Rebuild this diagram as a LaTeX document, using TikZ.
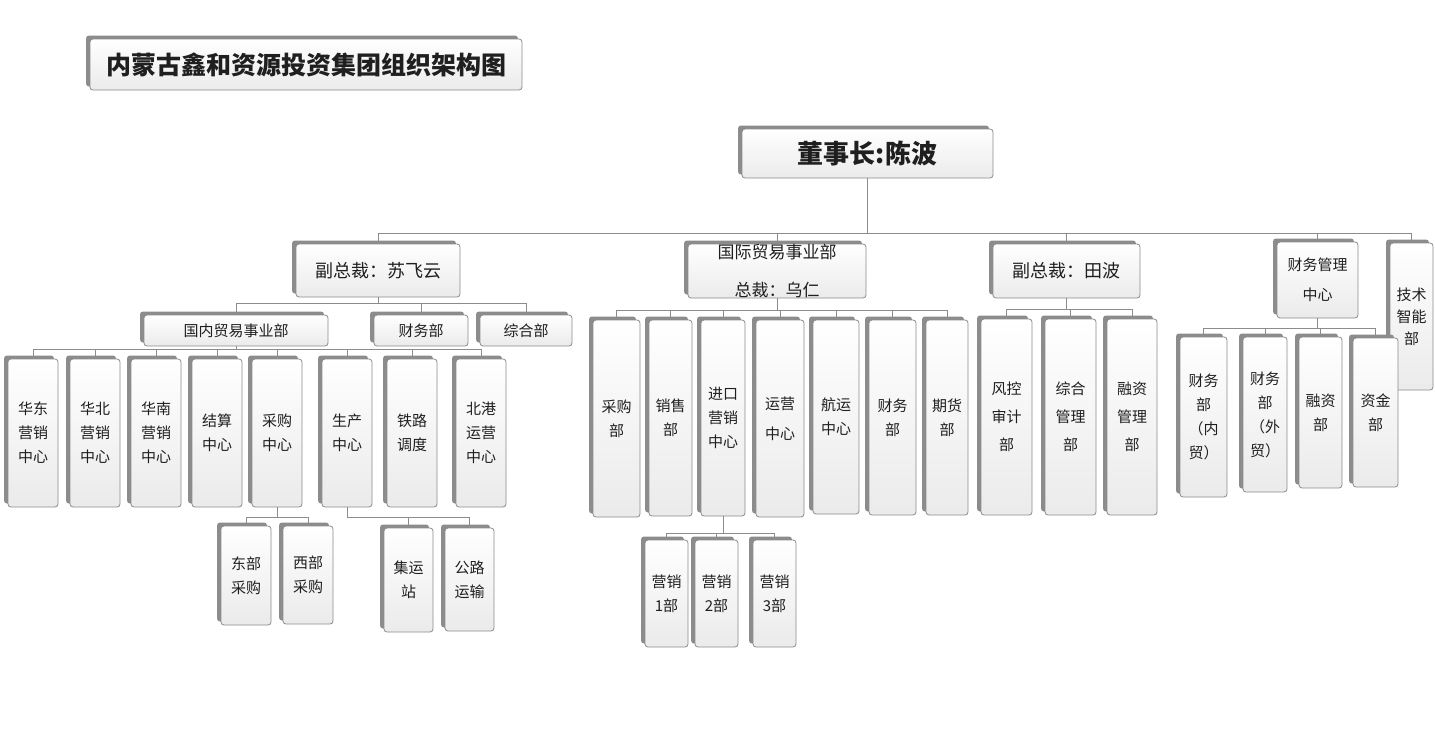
\documentclass[tikz,border=0pt]{standalone}
\usepackage{fontspec}
\setmainfont{Noto Sans CJK SC}
\usetikzlibrary{shadows}
\tikzset{
  box/.style={draw=black!45, line width=0.8pt, rounded corners=3pt,
    top color=white, bottom color=black!8,
    general shadow={fill=black!45, shadow xshift=-4pt, shadow yshift=3.5pt},
    inner sep=0pt, align=center, text=black!88,
    font=\fontsize{15}{24}\selectfont},
  conn/.style={draw=black!45, line width=0.8pt},
}
% \ob{x1}{y1}{x2}{y2}{name}{text}
\newcommand\ob[6][]{\node[box,minimum width={(#4-#2)*1pt},minimum height={(#5-#3)*1pt},#1] (#6) at ({(#2+#4)/2},{(#3+#5)/2})}
\begin{document}
\begin{tikzpicture}[x=1pt,y=-1pt]
\useasboundingbox[fill=white] (0,0) rectangle (1435,731);
% title and top
\ob[font=\fontsize{25}{30}\selectfont\bfseries]{90}{39}{522}{90}{title}{内蒙古鑫和资源投资集团组织架构图};
\ob[font=\fontsize{26}{30}\selectfont\bfseries]{742}{129}{993}{178}{chair}{董事长:陈波};
% level 2
\ob[font=\fontsize{18}{24}\selectfont]{296}{244}{460}{297}{vpa}{副总裁：苏飞云};
\ob[font=\fontsize{17}{38}\selectfont]{688}{244}{866}{298}{intl}{国际贸易事业部\\总裁：乌仁};
\ob[font=\fontsize{18}{24}\selectfont]{993}{244}{1140}{298}{vpb}{副总裁：田波};
\ob[font=\fontsize{15}{30}\selectfont]{1277}{242}{1358}{318}{fin}{财务管理\\中心};
\ob[font=\fontsize{15}{22}\selectfont]{1390}{243}{1433}{390}{tech}{技术\\智能\\部};
% level 3 under vpa
\ob{144}{315}{328}{346}{dom}{国内贸易事业部};
\ob{374}{315}{468}{346}{cwa}{财务部};
\ob{480}{315}{572}{346}{zha}{综合部};
% leaves of dom
\ob{8}{359}{58}{507}{d1}{华东\\营销\\中心};
\ob{70}{359}{120}{507}{d2}{华北\\营销\\中心};
\ob{131}{359}{181}{507}{d3}{华南\\营销\\中心};
\ob{192}{359}{242}{507}{d4}{结算\\中心};
\ob{252}{359}{302}{507}{d5}{采购\\中心};
\ob{322}{359}{372}{507}{d6}{生产\\中心};
\ob{387}{359}{437}{507}{d7}{铁路\\调度};
\ob{456}{359}{506}{507}{d8}{北港\\运营\\中心};
\ob{221}{526}{271}{625}{e1}{东部\\采购};
\ob{283}{526}{333}{624}{e2}{西部\\采购};
\ob{384}{528}{433}{632}{f1}{集运\\站};
\ob{445}{528}{494}{631}{f2}{公路\\运输};
% leaves of intl
\ob{593}{320}{640}{517}{i1}{采购\\部};
\ob{649}{320}{692}{516}{i2}{销售\\部};
\ob{701}{320}{745}{516}{i3}{进口\\营销\\中心};
\ob{756}{320}{804}{517}{i4}{运营\\[6pt]中心};
\ob{813}{320}{859}{514}{i5}{航运\\中心};
\ob{869}{320}{916}{515}{i6}{财务\\部};
\ob{926}{320}{968}{515}{i7}{期货\\部};
\ob{645}{540}{688}{647}{g1}{营销\\1部};
\ob{695}{540}{738}{647}{g2}{营销\\2部};
\ob{753}{540}{796}{647}{g3}{营销\\3部};
% leaves of vpb
\ob[font=\fontsize{15}{28}\selectfont]{981}{319}{1032}{515}{v1}{风控\\审计\\部};
\ob[font=\fontsize{15}{28}\selectfont]{1045}{319}{1096}{515}{v2}{综合\\管理\\部};
\ob[font=\fontsize{15}{28}\selectfont]{1107}{319}{1157}{515}{v3}{融资\\管理\\部};
% leaves of fin
\ob{1180}{337}{1227}{497}{c1}{财务\\部\\（内\\贸）};
\ob{1243}{337}{1287}{492}{c2}{财务\\部\\（外\\贸）};
\ob{1299}{337}{1342}{488}{c3}{融资\\部};
\ob{1353}{338}{1398}{487}{c4}{资金\\部};
% bus coordinates
\coordinate (busA) at (0,233);
\coordinate (busB) at (0,303);
\coordinate (busC) at (0,349);
\coordinate (busD) at (0,517);
\coordinate (busE) at (0,517);
\coordinate (busF) at (0,310);
\coordinate (busG) at (0,533);
\coordinate (busH) at (0,309);
\coordinate (busI) at (0,328);
% connectors
\draw[conn] (chair.south) -- (chair.south|-busA);
\draw[conn] (vpa.north|-busA) -- (tech.north|-busA);
\foreach \n in {vpa,intl,vpb,fin,tech} \draw[conn] (\n.north|-busA) -- (\n.north);
\draw[conn] (vpa.south) -- (vpa.south|-busB);
\draw[conn] (dom.north|-busB) -- (zha.north|-busB);
\foreach \n in {dom,cwa,zha} \draw[conn] (\n.north|-busB) -- (\n.north);
\draw[conn] (dom.south) -- (dom.south|-busC);
\draw[conn] (d1.north|-busC) -- (d8.north|-busC);
\foreach \n in {d1,d2,d3,d4,d5,d6,d7,d8} \draw[conn] (\n.north|-busC) -- (\n.north);
\draw[conn] (d5.south) -- (d5.south|-busD);
\draw[conn] (e1.north|-busD) -- (e2.north|-busD);
\foreach \n in {e1,e2} \draw[conn] (\n.north|-busD) -- (\n.north);
\draw[conn] (d6.south) -- (d6.south|-busE);
\draw[conn] (d6.south|-busE) -- (f2.north|-busE);
\foreach \n in {f1,f2} \draw[conn] (\n.north|-busE) -- (\n.north);
\draw[conn] (intl.south) -- (intl.south|-busF);
\draw[conn] (i1.north|-busF) -- (i7.north|-busF);
\foreach \n in {i1,i2,i3,i4,i5,i6,i7} \draw[conn] (\n.north|-busF) -- (\n.north);
\draw[conn] (i3.south) -- (i3.south|-busG);
\draw[conn] (g1.north|-busG) -- (g3.north|-busG);
\foreach \n in {g1,g2,g3} \draw[conn] (\n.north|-busG) -- (\n.north);
\draw[conn] (vpb.south) -- (vpb.south|-busH);
\draw[conn] (v1.north|-busH) -- (v3.north|-busH);
\foreach \n in {v1,v2,v3} \draw[conn] (\n.north|-busH) -- (\n.north);
\draw[conn] (fin.south) -- (fin.south|-busI);
\draw[conn] (c1.north|-busI) -- (c4.north|-busI);
\foreach \n in {c1,c2,c3,c4} \draw[conn] (\n.north|-busI) -- (\n.north);
\end{tikzpicture}
\end{document}
